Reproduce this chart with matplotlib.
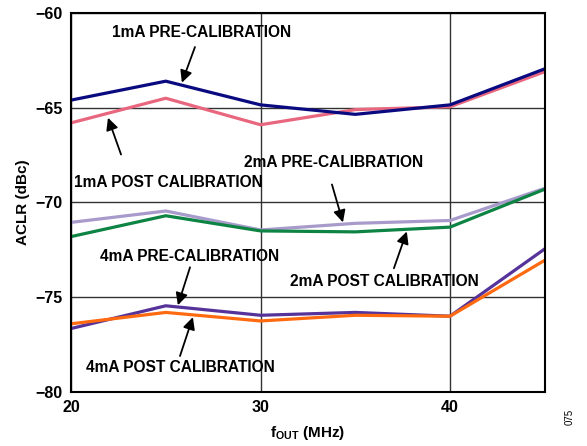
import matplotlib.pyplot as plt

plt.rcParams['font.family'] = ['Liberation Sans', 'DejaVu Sans']
plt.rcParams['font.weight'] = 'bold'

# data
freq = [20, 25, 30, 35, 40, 45]
pre_1ma = [-64.6, -63.6, -64.85, -65.35, -64.85, -62.95]
post_1ma = [-65.8, -64.5, -65.9, -65.1, -64.95, -63.1]
pre_2ma = [-71.05, -70.45, -71.45, -71.1, -70.95, -69.25]
post_2ma = [-71.8, -70.7, -71.5, -71.55, -71.3, -69.3]
pre_4ma = [-76.65, -75.45, -75.95, -75.8, -76.0, -72.45]
post_4ma = [-76.4, -75.8, -76.25, -75.95, -76.0, -73.05]

x_ticks = [20, 30, 40]
y_ticks = [-80, -75, -70, -65, -60]

fig = plt.figure(figsize=(5.87, 4.46), dpi=100)
ax = fig.add_axes([0.121, 0.121, 0.807, 0.850])

ax.plot(freq, post_1ma, color='#E8677F', lw=2.3)
ax.plot(freq, pre_1ma, color='#0A0A80', lw=2.3)
ax.plot(freq, pre_2ma, color='#A89BCB', lw=2.3)
ax.plot(freq, post_2ma, color='#0E8444', lw=2.3)
ax.plot(freq, pre_4ma, color='#55339A', lw=2.3)
ax.plot(freq, post_4ma, color='#FF6A10', lw=2.3)

ax.set_xlim(20, 45)
ax.set_ylim(-80, -60)
ax.set_xticks(x_ticks)
ax.set_yticks(y_ticks)
ax.tick_params(length=0, labelsize=11.5, pad=6)
ax.grid(True, color='#333333', lw=1)
for s in ax.spines.values():
    s.set_linewidth(1.5)

ax.set_xlabel(r'f$_{\mathregular{OUT}}$ (MHz)', fontsize=11, fontweight='bold', labelpad=6)
ax.set_ylabel('ACLR (dBc)', fontsize=11, fontweight='bold', labelpad=4)

# callouts: text position, arrow tail, arrow head (data coords)
arrow = dict(arrowstyle='-|>', color='black', lw=1.3, mutation_scale=18, shrinkA=0, shrinkB=0)
notes = [
    ('1mA PRE-CALIBRATION', (26.9, -61.05), (26.54, -61.8), (25.85, -63.68), 'center'),
    ('1mA POST CALIBRATION', (20.15, -68.95), (22.64, -67.47), (21.95, -65.53), 'left'),
    ('2mA PRE-CALIBRATION', (33.87, -67.9), (33.77, -69.05), (34.35, -71.05), 'center'),
    ('2mA POST CALIBRATION', (36.56, -74.15), (37.04, -73.47), (37.72, -71.53), 'center'),
    ('4mA PRE-CALIBRATION', (26.28, -72.85), (26.28, -73.42), (25.64, -75.42), 'center'),
    ('4mA POST CALIBRATION', (25.75, -78.68), (25.75, -78.1), (26.43, -76.05), 'center'),
]
for label, tpos, tail, head, ha in notes:
    ax.text(tpos[0], tpos[1], label, fontsize=11.2, fontweight='bold', ha=ha, va='center')
    ax.annotate('', xy=head, xytext=tail, arrowprops=arrow)

fig.text(0.97, 0.065, '075', rotation=90, fontsize=7, fontweight='normal', ha='center', va='center')

fig.savefig('out.png', dpi=100)
